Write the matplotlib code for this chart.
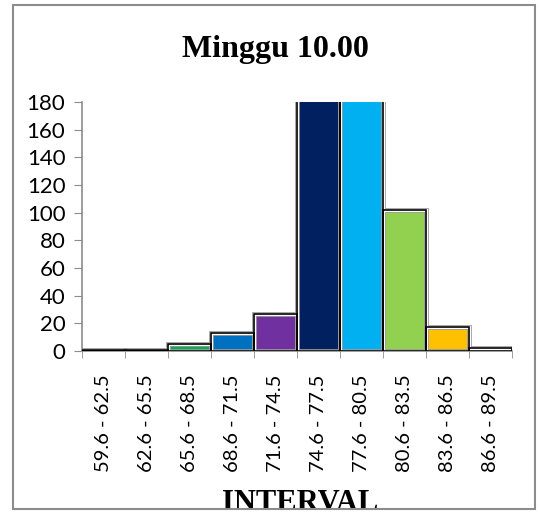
import matplotlib.pyplot as plt
from matplotlib.patches import Rectangle
import numpy as np

intervals = ["59.6 - 62.5", "62.6 - 65.5", "65.6 - 68.5", "68.6 - 71.5", "71.6 - 74.5",
             "74.6 - 77.5", "77.6 - 80.5", "80.6 - 83.5", "83.6 - 86.5", "86.6 - 89.5"]
counts = [1, 1, 5, 13, 27, 215, 190, 102, 17, 2]
colors = ["#C00000", "#FFC000", "#00B050", "#0070C0", "#7030A0",
          "#002060", "#00B0F0", "#92D050", "#FFC000", "#C00000"]

fig = plt.figure(figsize=(5.4, 5.19), dpi=100)
ax = fig.add_axes([82 / 540, 1 - 351 / 519, 430 / 540, 249 / 519])

x = np.arange(len(counts))
# layered outlines: gray outside, white, then black
ax.bar(x, counts, width=1.0, color=colors, edgecolor="#9a9a9a", linewidth=3.4, zorder=2)
ax.bar(x, counts, width=1.0, fill=False, edgecolor="white", linewidth=2.2, zorder=3)
ax.bar(x, counts, width=1.0, fill=False, edgecolor="black", linewidth=1.2, zorder=4)

ax.set_xlim(-0.5, len(counts) - 0.5)
ax.set_ylim(0, 180)
ax.set_yticks(range(0, 181, 20))

ax.set_xticks(x)
ax.set_xticklabels(intervals, rotation=90, fontfamily="Lato", fontsize=14.5)
ax.set_xticks(np.arange(-0.5, len(counts)), minor=True)
ax.tick_params(axis="x", which="major", length=0, pad=17)
ax.tick_params(axis="x", which="minor", length=5, color="#8c8c8c", direction="out")
ax.tick_params(axis="y", length=6, color="#8c8c8c", pad=6)
for lab in ax.get_yticklabels():
    lab.set_fontfamily("Lato")
    lab.set_fontsize(16)

for side in ["top", "right"]:
    ax.spines[side].set_visible(False)
for side in ["left", "bottom"]:
    ax.spines[side].set_color("#8c8c8c")
    ax.spines[side].set_linewidth(1.2)

fig.text(275 / 540, 1 - 50 / 519, "Minggu 10.00", ha="center", va="center",
         fontfamily="Liberation Serif", fontweight="bold", fontsize=23)
fig.text(300 / 540, 1 - 489 / 519, "INTERVAL", ha="center", va="top",
         fontfamily="Liberation Serif", fontweight="bold", fontsize=22)

# white strip under the frame hides the lower part of the axis title
fig.patches.append(Rectangle((0, 0), 1, 1 - 509 / 519, transform=fig.transFigure,
                             facecolor="white", edgecolor="none", zorder=10))
fig.patches.append(Rectangle((13 / 540, 1 - 509 / 519), (535 - 13) / 540, (509 - 5) / 519,
                             transform=fig.transFigure, fill=False,
                             edgecolor="#8c8c8c", linewidth=1.5, zorder=11))

fig.savefig("out.png", dpi=100)
